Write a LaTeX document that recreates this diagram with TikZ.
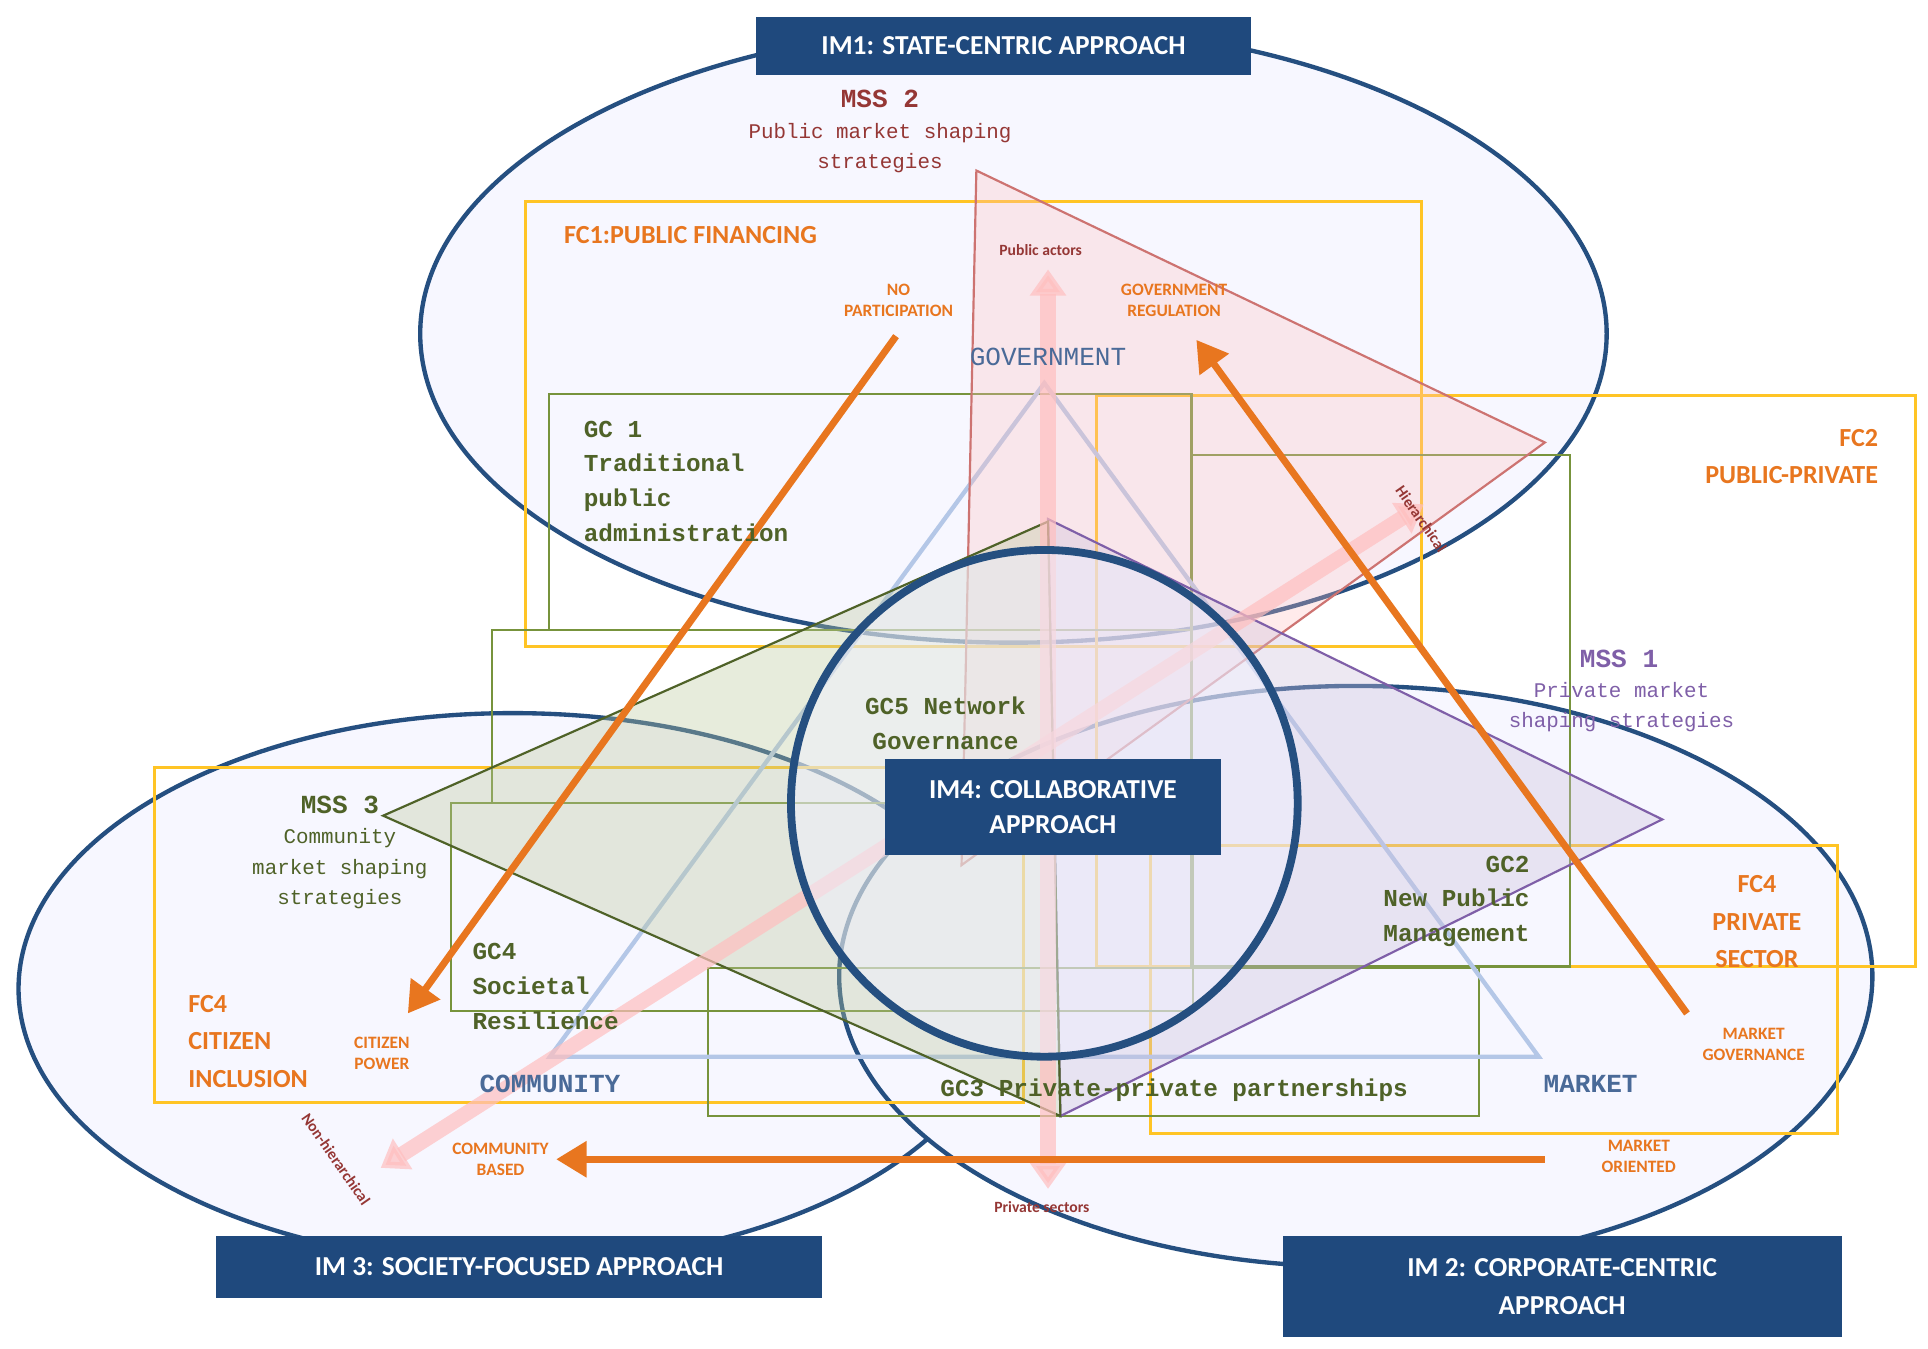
\documentclass[tikz,border=0pt]{standalone}
\usepackage{fontspec}
\setmainfont{Carlito}
\newfontfamily\mono{Liberation Mono}
\usetikzlibrary{arrows.meta}
\definecolor{dblue}{HTML}{1F497D}
\definecolor{eblue}{HTML}{254F80}
\definecolor{lblue}{HTML}{B4C7E7}
\definecolor{orng}{HTML}{E8761F}
\definecolor{yel}{HTML}{FFC425}
\definecolor{grn}{HTML}{77933C}
\definecolor{dgrn}{HTML}{4F6228}
\definecolor{rd}{HTML}{C0504D}
\definecolor{drd}{HTML}{953735}
\definecolor{prp}{HTML}{7F5FA8}
\definecolor{tblue}{HTML}{4A6A98}
\tikzset{
 ell/.style={draw=eblue,line width=1pt,fill=blue!3},
 lab/.style={fill=dblue,text=white,font=\fontsize{6.3}{8}\selectfont\bfseries,align=center,inner sep=0},
 fc/.style={draw=yel,line width=0.6pt},
 gc/.style={draw=grn,line width=0.5pt},
 fct/.style={text=orng,font=\fontsize{6}{8.6}\selectfont\bfseries},
 sm/.style={text=orng,font=\fontsize{4}{4.8}\selectfont\bfseries,align=center},
 gct/.style={text=dgrn,font=\mono\fontsize{5.6}{8}\selectfont\bfseries},
 big/.style={line width=1.6pt,draw=orng,-{Triangle[length=7pt,width=8pt]},{Triangle[length=7pt,width=8pt]}-},
 pnk/.style={line width=3.5pt,draw=red!25,opacity=0.7,{Triangle[length=6pt,width=8pt]}-{Triangle[length=6pt,width=8pt]}},
 tiny/.style={text=drd,font=\fontsize{3.6}{4}\selectfont\bfseries},
}
\begin{document}
\begin{tikzpicture}[x=0.01cm,y=-0.01cm]
\useasboundingbox[fill=white] (0,0) rectangle (1560,1091);
% ellipses
\path[ell] (820,270) ellipse [x radius=480,y radius=250];
\path[ell] (415,800) ellipse [x radius=400,y radius=223];
\path[ell] (1097,790) ellipse [x radius=418,y radius=235];
% FC rectangles
\draw[fc] (425,163) rectangle (1150,523);
\draw[fc] (887,320) rectangle (1550,782);
\draw[fc] (125,621) rectangle (828,892);
\draw[fc] (931,684) rectangle (1487,917);
% GC rectangles
\draw[gc] (444,319) rectangle (964,510);
\draw[gc] (398,510) rectangle (964,650);
\draw[gc] (365,650) rectangle (965,818);
\draw[gc] (964,368) rectangle (1270,782);
\draw[gc] (573,783) rectangle (1197,903);
% triangles
\draw[draw=lblue,line width=1pt] (845,310) coordinate (gov) -- (445,855) coordinate (com) -- (1245,855) coordinate (mar) -- cycle;
\filldraw[draw=rd!80,fill=red!25,fill opacity=0.3,line width=0.5pt] (790,138) -- (1250,358) -- (778,700) -- cycle;
\filldraw[draw=prp,fill=prp!40,fill opacity=0.35,line width=0.5pt] (848,420) -- (1345,663) -- (858,903) -- cycle;
\filldraw[draw=dgrn,fill=grn!50,fill opacity=0.35,line width=0.5pt] (310,660) -- (848,422) -- (858,903) -- cycle;
% pink arrows
\coordinate (pa) at (848,218); \coordinate (ps) at (848,962);
\coordinate (nh) at (308,945); \coordinate (hi) at (1152,408);
\draw[pnk] (pa) -- (ps);
\draw[pnk] (nh) -- (hi);
% IM4 circle
\draw[eblue,line width=1.8pt,fill=blue!6,fill opacity=0.5] (845,650) circle [radius=205];
% orange arrows
\coordinate (a1) at (330,820); \coordinate (a2) at (725,272);
\coordinate (b1) at (968,275); \coordinate (b2) at (1365,820);
\coordinate (c1) at (450,938); \coordinate (c2) at (1250,938);
\draw[big] (a1) -- (a2);
\draw[big] (b1) -- (b2);
\draw[big] (c1) -- (c2);
% texts
\node[text=drd,font=\mono\fontsize{6}{8}\selectfont\bfseries] (mss2) at (712,80) {MSS 2};
\node[text=drd,font=\mono\fontsize{4.8}{7}\selectfont,align=center] (mss2t) at (712,120) {Public market shaping\\strategies};
\node[fct,anchor=west] (fc1) at (444,190) {FC1:PUBLIC FINANCING};
\node[sm] (np) at (727,243) {NO\\PARTICIPATION};
\node[sm] (gr) at (950,243) {GOVERNMENT\\REGULATION};
\node[tiny] (pact) at (842,202) {Public actors};
\node[tiny] (psec) at (843,977) {Private sectors};
\node[tiny,rotate=-55] (hier) at (1150,420) {Hierarchical};
\node[tiny,rotate=-55] (nhier) at (272,938) {Non-hierarchical};
\node[text=tblue,font=\mono\fontsize{6}{8}\selectfont] (govt) at (848,289) {GOVERNMENT};
\node[gct,anchor=north west,align=left] (gc1) at (460,328) {GC 1\\Traditional\\public\\administration};
\node[fct,anchor=north east,align=right] (fc2) at (1532,335) {FC2\\PUBLIC-PRIVATE};
\node[text=prp,font=\mono\fontsize{6}{8}\selectfont\bfseries] (mss1) at (1310,533) {MSS 1};
\node[text=prp,font=\mono\fontsize{4.8}{7}\selectfont,align=center] (mss1t) at (1312,572) {Private market\\shaping strategies};
\node[gct,align=center] (gc5) at (765,585) {GC5 Network\\Governance};
\node[lab,minimum width=272*0.01cm,minimum height=78*0.01cm] (im4) at (852,653) {IM4: COLLABORATIVE\\APPROACH};
\node[text=dgrn,font=\mono\fontsize{6}{8}\selectfont\bfseries] (mss3) at (275,651) {MSS 3};
\node[text=dgrn,font=\mono\fontsize{4.8}{7}\selectfont,align=center] (mss3t) at (275,703) {Community\\market shaping\\strategies};
\node[gct,anchor=north east,align=right] (gc2) at (1250,680) {GC2\\New Public\\Management};
\node[fct,anchor=north east,align=center] (fc4p) at (1470,696) {FC4\\PRIVATE\\SECTOR};
\node[gct,anchor=north west,align=left] (gc4) at (370,751) {GC4\\Societal\\Resilience};
\node[fct,anchor=north west,align=left] (fc4c) at (140,793) {FC4\\CITIZEN\\INCLUSION};
\node[sm] (cp) at (309,852) {CITIZEN\\POWER};
\node[text=tblue,font=\mono\fontsize{6}{8}\selectfont\bfseries] (comt) at (445,877) {COMMUNITY};
\node[text=tblue,font=\mono\fontsize{6}{8}\selectfont\bfseries] (mart) at (1287,877) {MARKET};
\node[gct] (gc3) at (950,882) {GC3 Private-private partnerships};
\node[sm] (mg) at (1419,845) {MARKET\\GOVERNANCE};
\node[sm] (cb) at (405,938) {COMMUNITY\\BASED};
\node[sm] (mo) at (1326,936) {MARKET\\ORIENTED};
% IM label boxes
\node[lab,minimum width=401*0.01cm,minimum height=47*0.01cm] (im1) at (812,37) {IM1: STATE-CENTRIC APPROACH};
\node[lab,minimum width=490*0.01cm,minimum height=50*0.01cm] (im3) at (420,1025) {IM 3: SOCIETY-FOCUSED APPROACH};
\node[lab,minimum width=452*0.01cm,minimum height=82*0.01cm,font=\fontsize{6.3}{8.6}\selectfont\bfseries] (im2) at (1264,1041) {IM 2: CORPORATE-CENTRIC\\APPROACH};
\end{tikzpicture}
\end{document}
